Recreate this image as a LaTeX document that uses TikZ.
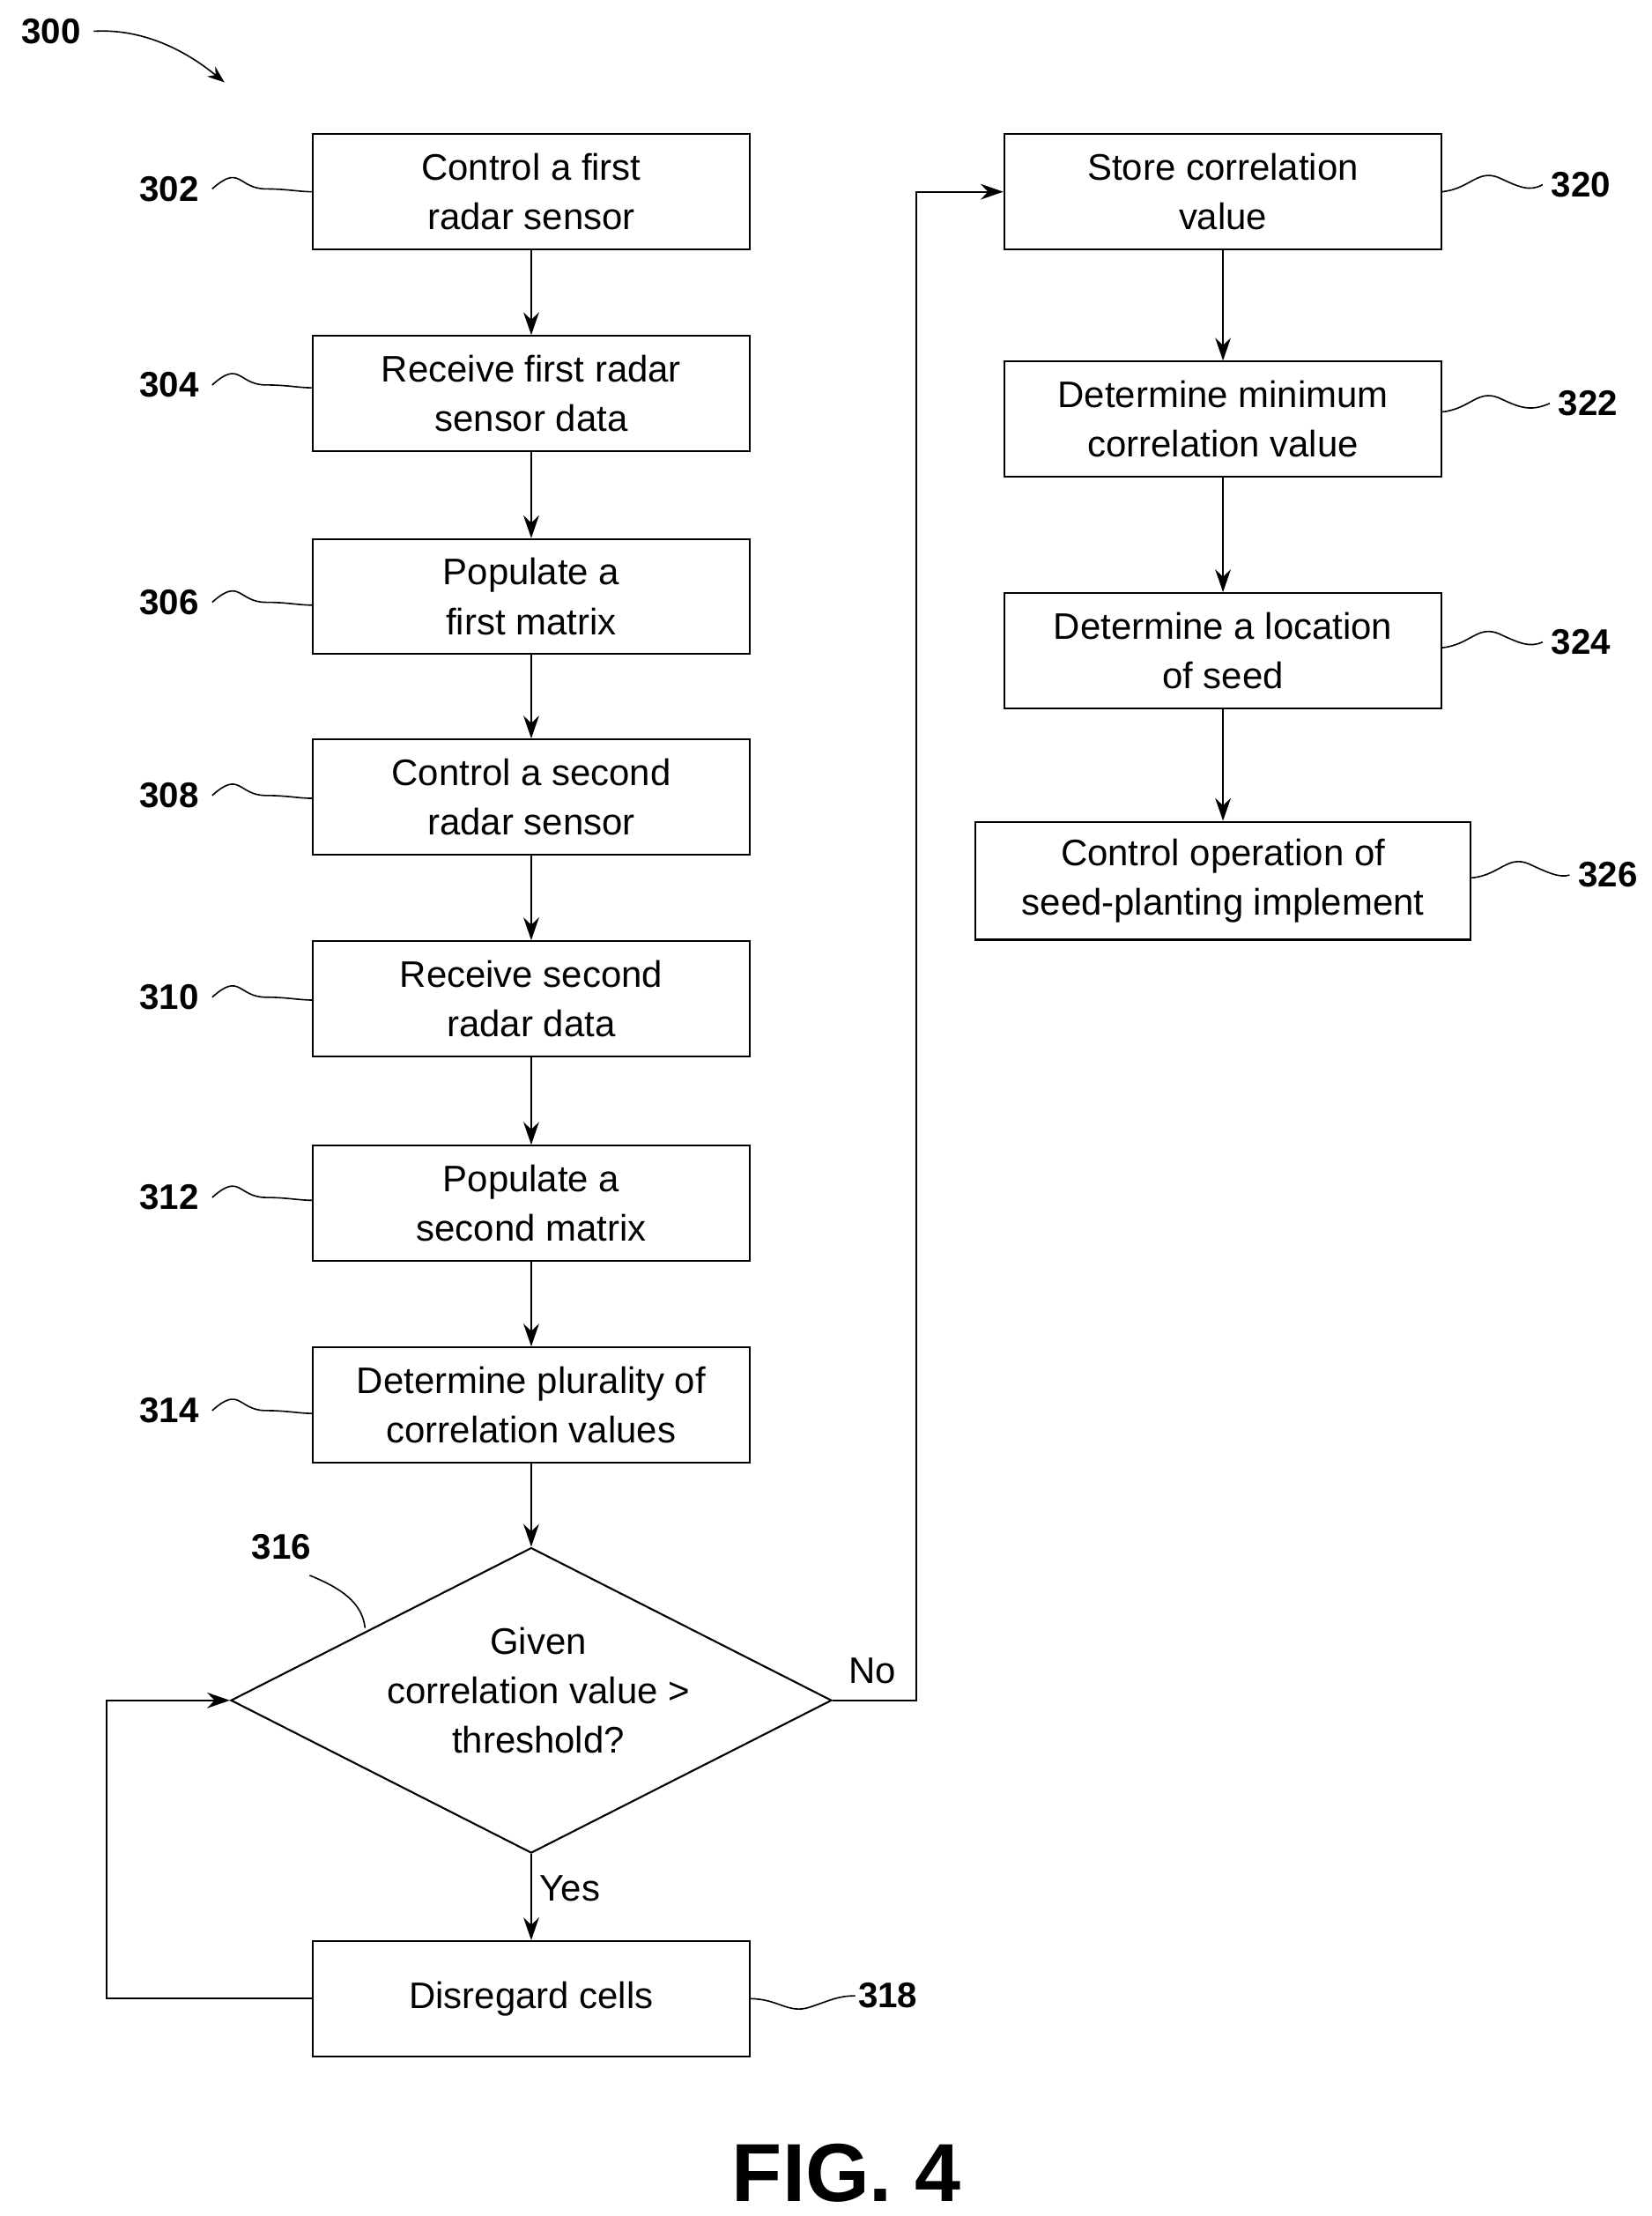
\documentclass[tikz,border=0pt]{standalone}
\usepackage{fontspec}
\setmainfont{Liberation Sans}
\usetikzlibrary{shapes.geometric,arrows.meta}
\begin{document}
\begin{tikzpicture}[x=1pt,y=-1pt,
 box/.style={draw,line width=1.3pt,minimum width=308pt,minimum height=81pt,align=center,font=\fontsize{26}{35}\selectfont,inner sep=0pt},
 lab/.style={font=\bfseries\fontsize{25}{30}\selectfont},
 arr/.style={line width=1.3pt,-{Stealth[length=16pt,width=11pt]}},
 sq/.style={line width=1pt}]
\useasboundingbox (0,0) rectangle (1163,1560);
\node[box] (b302) at (374,135) {Control a first\\radar sensor};
\node[box] (b304) at (374,277) {Receive first radar\\sensor data};
\node[box] (b306) at (374,420) {Populate a\\first matrix};
\node[box] (b308) at (374,561) {Control a second\\radar sensor};
\node[box] (b310) at (374,703) {Receive second\\radar data};
\node[box] (b312) at (374,847) {Populate a\\second matrix};
\node[box] (b314) at (374,989) {Determine plurality of\\correlation values};
\node[draw,line width=1.3pt,diamond,minimum width=423pt,minimum height=215pt,inner sep=0pt,align=center,font=\fontsize{26}{35}\selectfont] (d316) at (374,1197) {};
\node[align=center,font=\fontsize{26}{35}\selectfont] at (379,1190) {Given\\correlation value >\\threshold?};
\node[box] (b318) at (374,1407) {Disregard cells};
\node[box] (b320) at (861,135) {Store correlation\\value};
\node[box] (b322) at (861,295) {Determine minimum\\correlation value};
\node[box] (b324) at (861,458) {Determine a location\\of seed};
\node[box,minimum width=349pt,minimum height=83pt] (b326) at (861,620) {Control operation of\\seed-planting implement};
\draw[arr] (b302)--(b304);
\draw[arr] (b304)--(b306);
\draw[arr] (b306)--(b308);
\draw[arr] (b308)--(b310);
\draw[arr] (b310)--(b312);
\draw[arr] (b312)--(b314);
\draw[arr] (b314)--(d316.north);
\draw[arr] (d316.south)--(b318) node[pos=0.4,right=2pt,font=\fontsize{26}{30}\selectfont]{Yes};
\draw[arr] (b318.west)--(75,1407)--(75,1197)--(d316.west);
\draw[arr] (d316.east)--(645,1197)--(645,135)--(b320.west);
\node[font=\fontsize{26}{30}\selectfont] at (614,1176) {No};
\draw[arr] (b320)--(b322);
\draw[arr] (b322)--(b324);
\draw[arr] (b324)--(b326);
% labels
\foreach \n/\y in {302/133,304/271,306/424,308/560,310/702,312/843,314/993}{
 \node[lab] (l\n) at (119,\y) {\n};
 \draw[sq] (l\n.east)++(6,0) .. controls +(20,-18) and +(-20,0) .. +(38,0) .. controls +(15,0) and +(-10,0) .. (220,\y+2);
}
\node[lab] (l318) at (625,1405) {318};
\draw[sq] (528,1407) .. controls (548,1407) and (555,1418) .. (570,1413) .. controls (585,1408) and (590,1405) .. (602,1405);
\foreach \n/\x/\y/\bx/\by in {320/1113/130/1015/135,322/1118/284/1015/290,324/1113/452/1015/456,326/1132/616/1036/618}{
 \node[lab] (l\n) at (\x,\y) {\n};
 \draw[sq] (\bx,\by) .. controls (\bx+20,\by-2) and (\bx+25,\by-16) .. (\bx+40,\by-10) .. controls (\bx+55,\by-3) and (\bx+62,\by) .. (\x-27,\y);
}
\node[lab] (l316) at (198,1089) {316};
\draw[sq] (218,1109) .. controls (240,1118) and (255,1128) .. (257,1146);
\node[lab] (l300) at (36,22) {300};
\draw[line width=1pt,-{Stealth[length=12pt,width=9pt]}] (66,22) .. controls (100,20) and (130,35) .. (158,58);
\node[font=\bfseries\fontsize{58}{60}\selectfont] at (596,1530) {FIG. 4};
\end{tikzpicture}
\end{document}
